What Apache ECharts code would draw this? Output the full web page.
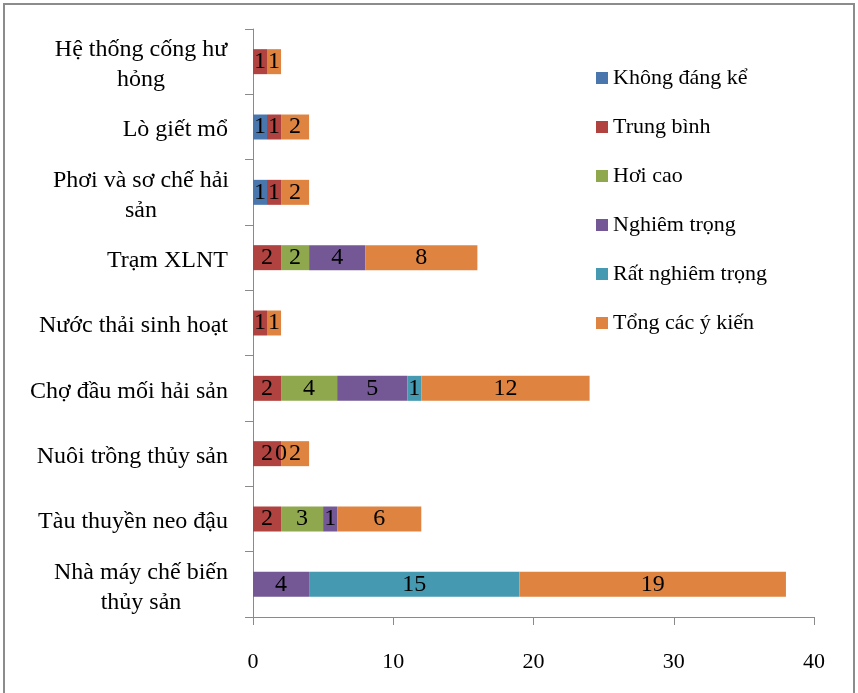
<!DOCTYPE html>
<html>
<head>
<meta charset="utf-8">
<script src="https://cdn.jsdelivr.net/npm/echarts@6/dist/echarts.min.js"></script>
<style>
  html, body { margin: 0; padding: 0; background: #fff; }
  #chart { width: 858px; height: 693px; }
</style>
</head>
<body>
<div id="chart"></div>
<script>
// các hạng mục (từ trên xuống)
var categories = [
  'Hệ thống cống hư\nhỏng',
  'Lò giết mổ',
  'Phơi và sơ chế hải\nsản',
  'Trạm XLNT',
  'Nước thải sinh hoạt',
  'Chợ đầu mối hải sản',
  'Nuôi trồng thủy sản',
  'Tàu thuyền neo đậu',
  'Nhà máy chế biến\nthủy sản'
];
var seriesNames = ['Không đáng kể', 'Trung bình', 'Hơi cao', 'Nghiêm trọng', 'Rất nghiêm trọng', 'Tổng các ý kiến'];
var khongDangKe = [null, 1, 1, null, null, null, null, null, null];
var trungBinh = [1, 1, 1, 2, 1, 2, 2, 2, null];
var hoiCao = [null, null, null, 2, null, 4, 0, 3, null];
var nghiemTrong = [null, null, null, 4, null, 5, null, 1, 4];
var ratNghiemTrong = [null, null, null, null, null, 1, null, null, 15];
var tongYKien = [1, 2, 2, 8, 1, 12, 2, 6, 19];
var xTicks = [0, 10, 20, 30, 40];

var colors = ['#4A76AE', '#B0433F', '#8FA84E', '#735895', '#4599B0', '#DE8440'];
var serif = '"Liberation Serif", "DejaVu Serif", serif';

var myChart = echarts.init(document.getElementById('chart'));
var allData = [khongDangKe, trungBinh, hoiCao, nghiemTrong, ratNghiemTrong, tongYKien];

var series = allData.map(function(arr, i) {
  return {
    name: seriesNames[i],
    type: 'bar',
    stack: 'total',
    barWidth: 25,
    data: arr,
    itemStyle: { color: colors[i] },
    label: {
      show: true,
      position: 'inside',
      color: '#000',
      fontFamily: serif,
      fontSize: 24,
      formatter: function(p) {
        return p.value == null ? '' : String(p.value);
      }
    }
  };
});

var option = {
  animation: false,
  color: colors,
  grid: {
    left: 253,
    right: 44,
    top: 29,
    bottom: 76
  },
  legend: {
    orient: 'vertical',
    left: 596,
    top: 66,
    padding: 0,
    itemWidth: 12,
    itemHeight: 12,
    itemGap: 25,
    icon: 'rect',
    textStyle: {
      fontFamily: serif,
      fontSize: 22,
      lineHeight: 24,
      color: '#000'
    },
    data: seriesNames
  },
  xAxis: {
    type: 'value',
    min: 0,
    max: 40,
    interval: 10,
    axisLine: { show: true, lineStyle: { color: '#8a8a8a' } },
    axisTick: { show: true, length: 8, lineStyle: { color: '#8a8a8a' } },
    splitLine: { show: false },
    axisLabel: {
      margin: 34,
      color: '#000',
      fontFamily: serif,
      fontSize: 22,
      formatter: function(v) {
        return xTicks.indexOf(v) >= 0 ? String(v) : '';
      }
    }
  },
  yAxis: {
    type: 'category',
    inverse: true,
    data: categories,
    axisLine: { show: true, lineStyle: { color: '#8a8a8a' } },
    axisTick: { show: true, length: 8, lineStyle: { color: '#8a8a8a' } },
    axisLabel: {
      margin: 25,
      color: '#000',
      fontFamily: serif,
      fontSize: 24,
      lineHeight: 30,
      padding: [6, 0, 0, 0],
      formatter: function(v) {
        if (v.indexOf('\n') < 0) return v;
        return v.split('\n').map(function(s) { return '{c|' + s + '}'; }).join('\n');
      },
      rich: {
        c: {
          width: 174,
          align: 'center',
          color: '#000',
          fontFamily: serif,
          fontSize: 24,
          lineHeight: 30
        }
      }
    }
  },
  graphic: [
    {
      type: 'rect',
      shape: { x: 4, y: 4, width: 850, height: 720 },
      style: { fill: 'none', stroke: '#8c8c8c', lineWidth: 2 }
    }
  ],
  series: series
};
myChart.setOption(option);
window.onresize = myChart.resize;
</script>
</body>
</html>
